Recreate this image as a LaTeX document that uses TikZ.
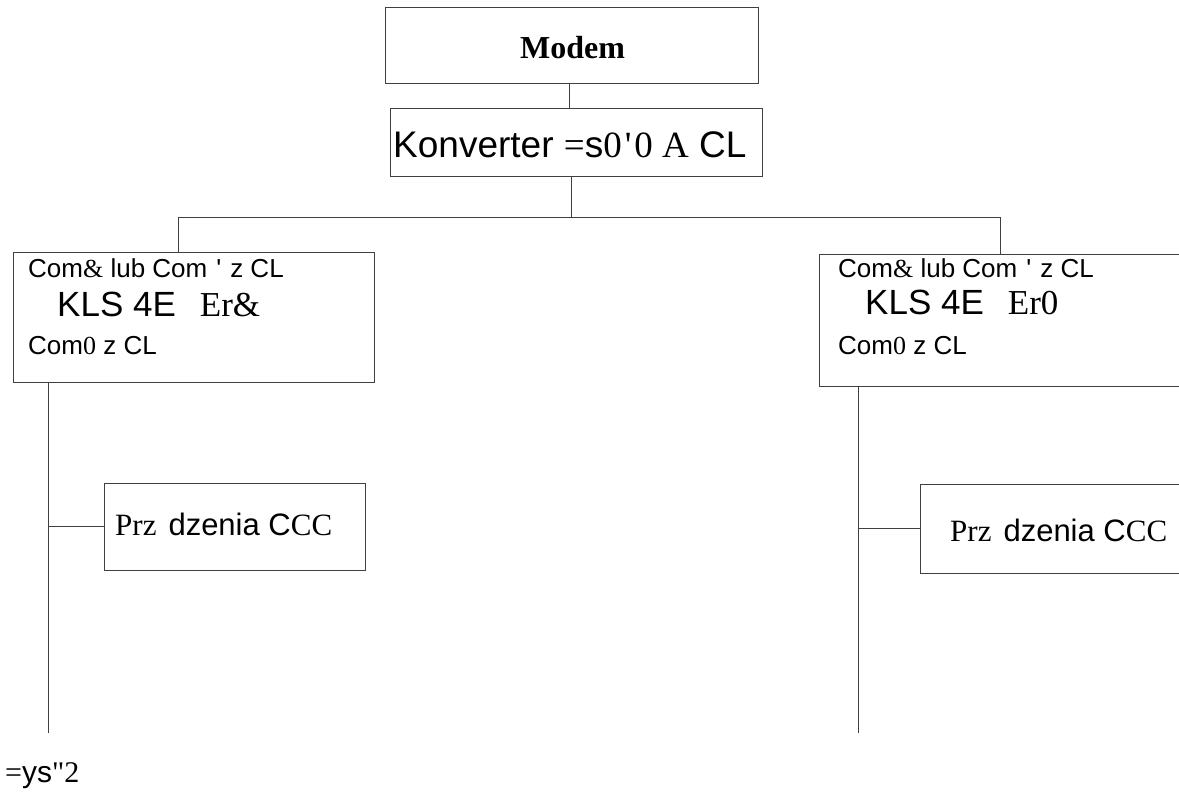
\documentclass[tikz,border=0pt]{standalone}
\usepackage{fontspec}
\setmainfont{Liberation Sans}[Ligatures=TeXOff]
\newfontfamily\serif{Liberation Serif}[Ligatures=TeXOff]
\newcommand\fsz[1]{\fontsize{#1}{#1}\selectfont}
\begin{document}
\begin{tikzpicture}[x=1pt,y=-1pt,
  box/.style={draw=black!75,line width=1pt,inner sep=0pt},
  txt/.style={inner sep=0pt,anchor=base west},
  conn/.style={draw=black!75,line width=1pt}]
\useasboundingbox (0,0) rectangle (1179,793);
\clip (0,0) rectangle (1179,793);
% boxes
\node[box,minimum width=373pt,minimum height=76pt] (modem) at (571.5,45) {};
\node[box,minimum width=372pt,minimum height=68pt] (konv) at (576,142) {};
\node[box,minimum width=361pt,minimum height=130pt] (leftbox) at (193.5,317) {};
\node[box,minimum width=381pt,minimum height=132pt] (rightbox) at (1009.5,320) {};
\node[box,minimum width=261pt,minimum height=87pt] (prza) at (234.5,526.5) {};
\node[box,minimum width=280pt,minimum height=89pt] (przb) at (1060,528.5) {};
% texts
\node[txt] (modemt) at (520,58) {\serif\bfseries\fsz{32}Modem};
\node[txt] (konvt) at (393,157) {\fsz{37}Konverter {\serif=}s{\serif0\hspace{3pt}'\hspace{3pt}0 A} CL};
\node[txt] (la) at (28,277) {\fsz{26}Com{\serif\&} lub Com\hspace{9pt}'\hspace{9pt}z CL};
\node[txt] (lb) at (57,316) {\fsz{35}KLS 4E\hspace{24pt}{\serif Er\&}};
\node[txt] (lc) at (28,354) {\fsz{26}Com{\serif0} z CL};
\node[txt] (ra) at (838,277) {\fsz{26}Com{\serif\&} lub Com\hspace{9pt}'\hspace{9pt}z CL};
\node[txt] (rb) at (865,314) {\fsz{35}KLS 4E\hspace{24pt}{\serif Er0}};
\node[txt] (rc) at (838,354) {\fsz{26}Com{\serif0} z CL};
\node[txt] (pa) at (115,535) {\fsz{31}{\serif Prz}\hspace{12pt}dzenia C{\serif CC}};
\node[txt] (pb) at (950,541) {\fsz{31}{\serif Prz}\hspace{12pt}dzenia C{\serif CC}};
\node[txt] (foot) at (5,782) {\fsz{30}{\serif=}ys{\serif"2}};
% connectors
\coordinate (busL) at (178,217);
\coordinate (busR) at (1000,217);
\coordinate (lend) at (48,733);
\coordinate (rend) at (858,733);
\draw[conn] ([xshift=-2pt]modem.south) -- ([xshift=-2pt]modem.south |- konv.north);
\draw[conn] ([xshift=-5pt]konv.south) -- ([xshift=-5pt]konv.south |- busL);
\draw[conn] (busL) -- (busR);
\draw[conn] (busL) -- (busL |- leftbox.north);
\draw[conn] (busR) -- (busR |- rightbox.north);
\draw[conn] (lend |- leftbox.south) -- (lend);
\draw[conn] (rend |- rightbox.south) -- (rend);
\draw[conn] (lend |- prza.west) -- (prza.west);
\draw[conn] (rend |- przb.west) -- (przb.west);
\end{tikzpicture}
\end{document}
